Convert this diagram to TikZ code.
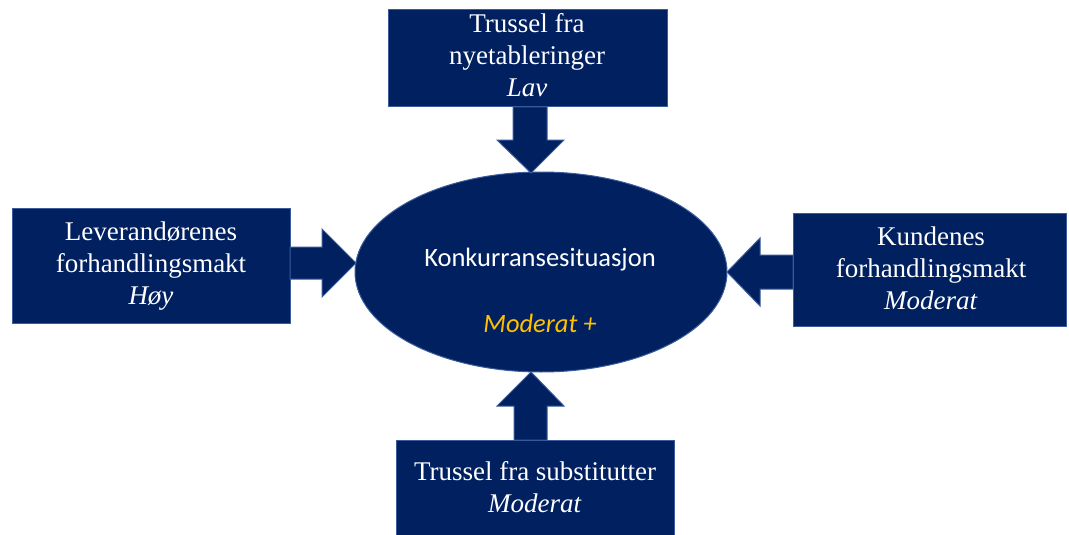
\documentclass[tikz,border=0pt]{standalone}
\usepackage{fontspec}
\setmainfont{Liberation Serif}
\newfontfamily\calibfont{Carlito}
\usetikzlibrary{shapes.geometric}
\definecolor{navy}{HTML}{002060}
\definecolor{edgeblue}{HTML}{3A5C9C}
\definecolor{gold}{HTML}{FFC000}
\begin{document}
\begin{tikzpicture}[x=1pt,y=-1pt,
  box/.style={draw=edgeblue, fill=navy, line width=1pt, inner sep=0pt},
  boxtext/.style={text=white, inner sep=0pt, anchor=base, font=\fontsize{27}{32}\selectfont},
  elltext/.style={inner sep=0pt, anchor=base, font=\calibfont\fontsize{26.5}{32}\selectfont}]
\useasboundingbox (0,0) rectangle (1069,535);
% boxes
\node[box, minimum width=279pt, minimum height=97pt] (top) at (527.5,58.5) {};
\node[box, minimum width=278pt, minimum height=115pt] (left) at (151,265.5) {};
\node[box, minimum width=273pt, minimum height=113pt] (right) at (929.5,269.5) {};
\node[box, minimum width=278pt, minimum height=110pt] (bottom) at (535,495) {};
% ellipse
\node[box, ellipse, minimum width=372pt, minimum height=200pt] (ell) at (541,272) {};
% block arrows
\draw[box] (513,107) -- (547,107) -- (547,140) -- (564,140) -- (531,173) -- (497,140) -- (513,140) -- cycle;
\draw[box] (290,247) -- (322,247) -- (322,229) -- (356,263) -- (322,297) -- (322,279) -- (290,279) -- cycle;
\draw[box] (793,255) -- (760,255) -- (760,238) -- (727,272) -- (760,306) -- (760,289) -- (793,289) -- cycle;
\draw[box] (514,440) -- (514,406) -- (497,406) -- (531,372) -- (564,406) -- (547,406) -- (547,440) -- cycle;
% texts
\node[boxtext] (toptext) at (527,33) {\begin{tabular}[t]{@{}c@{}}Trussel fra\\nyetableringer\\\textit{Lav}\end{tabular}};
\node[boxtext] (lefttext) at (151,240) {\begin{tabular}[t]{@{}c@{}}Leverandørenes\\forhandlingsmakt\\\textit{Høy}\end{tabular}};
\node[boxtext] (righttext) at (931,245) {\begin{tabular}[t]{@{}c@{}}Kundenes\\forhandlingsmakt\\\textit{Moderat}\end{tabular}};
\node[boxtext] (bottomtext) at (535,480) {\begin{tabular}[t]{@{}c@{}}Trussel fra substitutter\\\textit{Moderat}\end{tabular}};
\node[elltext, text=white] (elltitle) at (540,266) {Konkurransesituasjon};
\node[elltext, text=gold] (ellrating) at (540,332) {\textit{Moderat +}};
\end{tikzpicture}
\end{document}
